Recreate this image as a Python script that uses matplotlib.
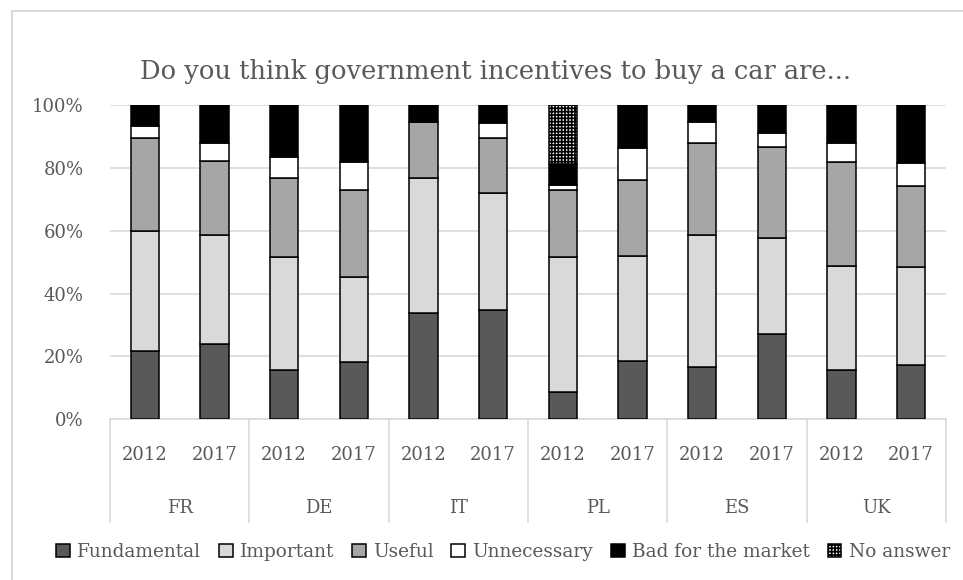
import numpy as np
import matplotlib
matplotlib.use("Agg")
import matplotlib.pyplot as plt
from matplotlib.patches import Rectangle

countries = ["FR", "DE", "IT", "PL", "ES", "UK"]
years = ["2012", "2017"]

# shares in %, one value per bar (FR 2012, FR 2017, DE 2012, ...)
fundamental = [21.7, 24.1, 15.6, 18.2, 33.7, 34.9, 8.7, 18.5, 16.6, 27.1, 15.7, 17.4]
important = [38.1, 34.4, 36.0, 27.2, 43.2, 37.0, 42.9, 33.5, 41.9, 30.5, 33.1, 31.0]
useful = [29.6, 23.6, 25.3, 27.7, 17.8, 17.7, 21.4, 24.0, 29.5, 29.0, 33.0, 25.8]
unnecessary = [3.9, 5.9, 6.6, 8.9, 0.0, 4.8, 1.4, 10.4, 6.7, 4.4, 6.0, 7.4]
bad_market = [6.7, 12.0, 16.5, 18.0, 5.3, 5.6, 6.7, 13.6, 5.3, 9.0, 12.2, 18.4]
no_answer = [0, 0, 0, 0, 0, 0, 18.9, 0, 0, 0, 0, 0]

series = [
    ("Fundamental", fundamental, "#595959", None),
    ("Important", important, "#d9d9d9", None),
    ("Useful", useful, "#a6a6a6", None),
    ("Unnecessary", unnecessary, "#ffffff", None),
    ("Bad for the market", bad_market, "#000000", None),
    ("No answer", no_answer, "#ffffff", "+++++"),
]

txt = "#595959"
grid = "#d9d9d9"
plt.rcParams['font.family'] = ['DejaVu Serif']
plt.rcParams['hatch.linewidth'] = 1.2

W, H = 963, 580
fig = plt.figure(figsize=(W / 100, H / 100), dpi=100)
ax = fig.add_axes([110 / W, 1 - 419.3 / H, 836 / W, 314.3 / H])

x = np.arange(len(fundamental))
bottom = np.zeros(len(x))
for name, vals, col, hatch in series:
    vals = np.array(vals, dtype=float)
    ax.bar(x, vals, 0.41, bottom=bottom, color=col, edgecolor="black",
           linewidth=1.1, hatch=hatch, label=name, zorder=3)
    bottom += vals

ax.set_xlim(-0.5, len(x) - 0.5)
ax.set_ylim(0, 100)
ax.set_yticks(range(0, 101, 20))
ax.set_yticklabels([f"{v}%" for v in range(0, 101, 20)])
ax.yaxis.grid(True, color=grid, linewidth=1.2, zorder=0)
for s in ["left", "right", "top"]:
    ax.spines[s].set_visible(False)
ax.spines["bottom"].set_color(grid)
ax.spines["bottom"].set_linewidth(1.2)
ax.tick_params(axis="y", length=0, labelsize=13, labelcolor=txt, pad=19)
ax.tick_params(axis="x", length=0, labelsize=13, labelcolor=txt, pad=19)
ax.set_xticks(x)
ax.set_xticklabels(years * len(countries))

# second level of the category axis
trans = ax.get_xaxis_transform()
for i, c in enumerate(countries):
    ax.text(2 * i + 0.5, -0.283, c, transform=trans, ha="center", va="center",
            fontsize=13, color=txt)
for b in np.arange(-0.5, len(x), 2):
    ax.plot([b, b], [0, -0.327], transform=trans, color=grid, linewidth=1.2,
            clip_on=False)

fig.text(495 / W, 1 - 72 / H, "Do you think government incentives to buy a car are...",
         ha="center", va="center", fontsize=18.5, color=txt)

leg = fig.legend(loc="center", bbox_to_anchor=(503 / W, 1 - 552 / H), ncol=6,
                 frameon=False, fontsize=13.3, handlelength=0.75, handleheight=0.75,
                 handletextpad=0.4, columnspacing=0.95, labelcolor=txt)

fig.patches.append(Rectangle((12 / W, -0.05), 1.1, 1.05 - 11 / H,
                             transform=fig.transFigure, fill=False,
                             edgecolor=grid, linewidth=1.5))

fig.savefig("out.png", dpi=100)
